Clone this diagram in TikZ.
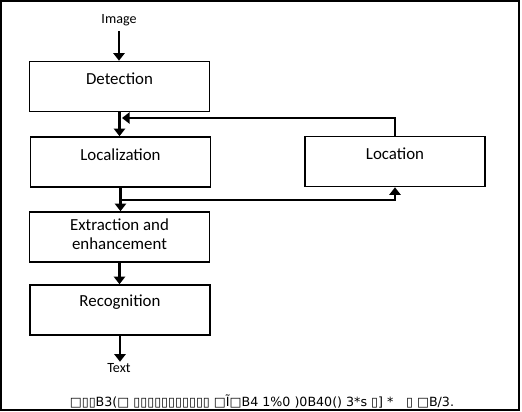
\documentclass[tikz,border=0pt]{standalone}
\usepackage{fontspec}
\setmainfont{Carlito}
\newfontfamily\capfont{DejaVu Sans}
\usetikzlibrary{arrows.meta, positioning}
\tikzset{
  stage/.style={draw=black, line width=1.1pt, fill=white, minimum width=4.5cm,
                minimum height=1.25cm, inner sep=0pt},
  ttl/.style={font=\fontsize{12}{13.5}\selectfont, align=center, inner sep=1pt},
  io/.style={font=\fontsize{10}{11}\selectfont, inner sep=1pt},
  arr/.style={-{Triangle[length=1.9mm,width=2.8mm]}, line width=1.6pt},
}

\begin{document}
\begin{tikzpicture}[x=0.025cm, y=-0.025cm]
\useasboundingbox (0,0) rectangle (522,412);
\draw[line width=0.8pt] (1,1) rectangle (519,410);

% the chain of stages
\node[io] (img) at (119,20) {Image};
\node[stage] (det) at (119.5,86.5) {};
\node[ttl] (detl) at ([yshift=-0.45cm]det.north) {Detection};
\node[stage] (loc) at (120.5,162) {};
\node[ttl] (locl) at ([yshift=-0.47cm]loc.north) {Localization};
\node[stage] (ext) at (119.5,237) {};
\node[ttl] (extl) at ([yshift=-0.58cm]ext.north) {Extraction and\\enhancement};
\node[stage] (rec) at (120,310) {};
\node[ttl] (recl) at ([yshift=-0.45cm]rec.north) {Recognition};
\node[io] (txt) at (119,368) {Text};

% the side stage
\node[stage] (pos) at (395,161.5) {};
\node[ttl] (posl) at ([yshift=-0.45cm]pos.north) {Location};

\draw[arr] (img.south) ++(0,4) coordinate (a0) -- (a0 |- det.north);
\draw[arr] (det.south) -- (det.south |- loc.north);
\draw[arr] (loc.south) -- (loc.south |- ext.north);
\draw[arr] (ext.south) -- (ext.south |- rec.north);
\draw[arr] (rec.south) -- (rec.south |- txt.north);

% feedback between the two columns
\coordinate (up) at (122,118);
\coordinate (dn) at (122,200);
\draw[arr] (pos.north) |- (up);
\draw[arr] (dn) -| (pos.south);

\node[font=\capfont\fontsize{9}{10}\selectfont] (cap) at (262,402)
  {□▯▯B3(□ ▯▯▯▯▯▯▯▯▯▯▯ □Ĩ□B4 1\%0 )0B40() 3*s ▯] *\quad ▯ □B/3.};
\end{tikzpicture}
\end{document}
